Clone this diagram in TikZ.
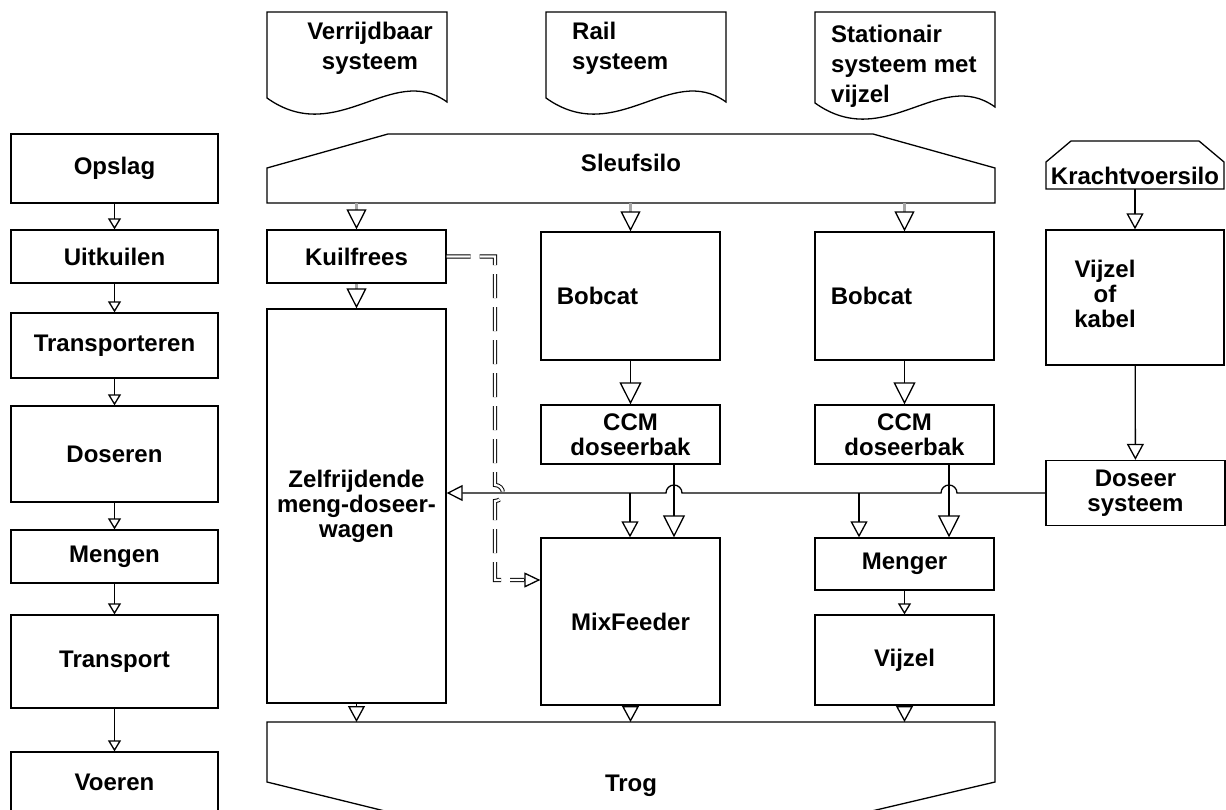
\documentclass[tikz,border=0pt]{standalone}
\usepackage{fontspec}
\setmainfont{Liberation Sans}
\usetikzlibrary{arrows.meta}

\begin{document}
\begin{tikzpicture}[
  x=1pt, y=-1pt,
  font=\bfseries\fontsize{24}{25}\selectfont,
  box/.style={draw, line width=1.3pt, inner sep=0pt, align=center},
  lbl/.style={inner sep=0pt},
  ln/.style={line width=1.3pt},
  arS/.style={ln, -{Triangle[open, length=11pt, width=13pt]}},
  arM/.style={ln, -{Triangle[open, length=16pt, width=17pt]}},
  arL/.style={ln, -{Triangle[open, length=22pt, width=22pt]}},
  silo/.style={draw=gray!70, line width=2.6pt,
               -{Triangle[open, length=20pt, width=20pt, color=black, line width=1.3pt]}},
  dash2/.style={double, double distance=2.2pt, line width=1pt,
                dash pattern=on 24pt off 9pt}
]
  \useasboundingbox (0,0) rectangle (1226,810);
  % left column: the steps
  \foreach \nm/\yt/\yb/\txt in {
    opslag/134/203/Opslag, uitk/230/283/Uitkuilen,
    transp/313/378/Transporteren, dos/406/502/Doseren,
    meng/530/583/Mengen, transport/615/708/Transport,
    voer/752/812/Voeren}
    {\node[box, minimum width=207pt, minimum height={\yb-\yt}]
       (\nm) at (114.5, {(\yt+\yb)/2}) {\txt};}
  \foreach \a/\b in {opslag/uitk, uitk/transp, transp/dos,
                     dos/meng, meng/transport, transport/voer}
    \draw[arS] (\a) -- (\b);

  % documents on top
  \foreach \x/\d in {267/0, 546/0, 815/5}
    \draw[ln] (\x,12) -- (\x+180,12) -- (\x+180,102+\d)
      .. controls (\x+125,62+\d) and (\x+70,148+\d) .. (\x,98+\d) -- cycle;
  \begin{scope}[font=\bfseries\fontsize{24}{30}\selectfont]
    \node[lbl, align=center] (verr) at (370,48) {Verrijdbaar\\systeem};
    \node[lbl, align=left, anchor=west] (rail) at (572,48) {Rail\\systeem};
    \node[lbl, align=left, anchor=west] (stat) at (831,66) {Stationair\\systeem met\\vijzel};
  \end{scope}

  % silos and trough
  \draw[ln] (267,203) -- (267,168) -- (388,134) -- (873,134) -- (995,168)
    -- (995,203) -- cycle;
  \node[lbl] (sleuf) at (631,163) {Sleufsilo};
  \coordinate (sb) at (631,203);
  \draw[ln] (267,722) -- (995,722) -- (995,782) -- (791,830) -- (462,830)
    -- (267,782) -- cycle;
  \node[lbl] (trog) at (631,786) {Trog};
  \coordinate (tt) at (631,722);
  \draw[ln] (1046,189) -- (1046,162) -- (1071,141) -- (1199,141)
    -- (1224,162) -- (1224,189) -- cycle;
  \node[lbl, minimum width=178pt, minimum height=27pt] (kracht) at (1135,175.5) {Krachtvoersilo};

  % machines
  \node[box, minimum width=179pt, minimum height=53pt] (kuil) at (356.5,256.5) {Kuilfrees};
  \node[box, minimum width=179pt, minimum height=394pt] (zelf) at (356.5,506) {Zelfrijdende\\meng-doseer-\\wagen};
  \node[box, minimum width=179pt, minimum height=128pt] (bobA) at (630.5,296) {Bobcat\hspace*{66pt}};
  \node[box, minimum width=179pt, minimum height=128pt] (bobB) at (904.5,296) {Bobcat\hspace*{66pt}};
  \node[box, minimum width=179pt, minimum height=59pt] (ccmA) at (630.5,434.5) {CCM\\doseerbak};
  \node[box, minimum width=179pt, minimum height=59pt] (ccmB) at (904.5,434.5) {CCM\\doseerbak};
  \node[box, minimum width=179pt, minimum height=167pt] (mix) at (630.5,621.5) {MixFeeder};
  \node[box, minimum width=179pt, minimum height=52pt] (menger) at (904.5,564) {Menger};
  \node[box, minimum width=179pt, minimum height=90pt] (vijzel) at (904.5,660) {Vijzel};
  \node[box, minimum width=178pt, minimum height=135pt] (vijkab) at (1135,297.5)
    {\begin{tabular}{@{}c@{}}Vijzel\\of\\kabel\end{tabular}\hspace*{60pt}};
  \node[box, minimum width=179pt, minimum height=65pt] (doseer) at (1135.5,493) {Doseer\\systeem};

  \foreach \n in {kuil, bobA, bobB} \draw[silo] (sb -| \n) -- (\n);
  \draw[silo] (kuil) -- (zelf);
  \draw[arL] (bobA) -- (ccmA);
  \draw[arL] (bobB) -- (ccmB);
  \coordinate (ja) at (674,493);
  \coordinate (jb) at (949,493);
  \coordinate (ha) at (630,493);
  \coordinate (hb) at (859,493);
  \draw[arL] (ccmA.south -| ja) -- (mix.north -| ja);
  \draw[arL] (ccmB.south -| jb) -- (menger.north -| jb);
  \draw[arM] (ha) -- (mix.north -| ha);
  \draw[arM] (hb) -- (menger.north -| hb);
  \draw[arM] (kracht) -- (vijkab);
  \draw[arM] (vijkab) -- (doseer);
  \draw[arS] (menger) -- (vijzel);
  \foreach \n in {zelf, mix, vijzel} \draw[arM] (\n) -- (\n |- tt);

  % dosing line, hopping over the feeds
  \draw[ln, -{Triangle[open, length=16pt, width=16pt]}] (doseer.west)
    -- (957,493) arc[start angle=0, end angle=-180, radius=8]
    -- (682,493) arc[start angle=0, end angle=-180, radius=8]
    -- (zelf.east |- doseer.west);

  % kuilfrees straight to the mixfeeder
  \coordinate (dm) at (541,580);
  \draw[dash2] (kuil.east) -- (495,256.5) -- (495,485)
    arc[start angle=-90, end angle=90, radius=8] -- (495,580)
    -- ([xshift=-16pt]mix.west |- dm);
  \draw[ln, -{Triangle[open, length=16pt, width=15pt]}]
    ([xshift=-16pt]mix.west |- dm) -- (mix.west |- dm);
\end{tikzpicture}
\end{document}
